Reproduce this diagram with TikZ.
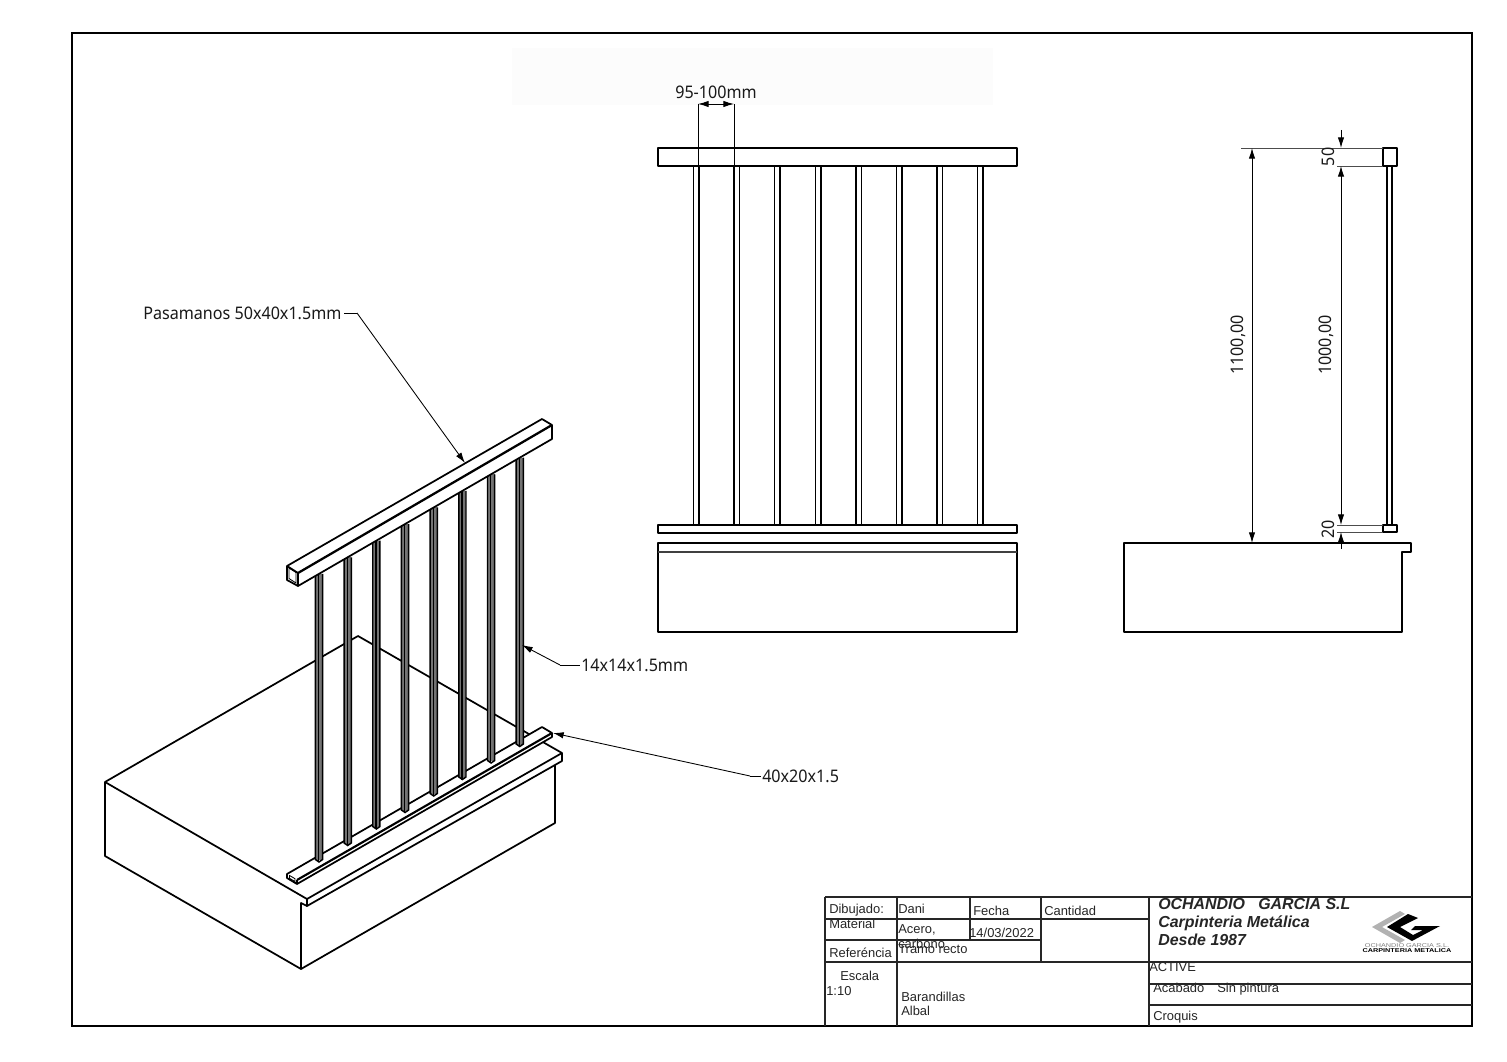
\documentclass[tikz,border=0pt]{standalone}
\usepackage{fontspec}
\usetikzlibrary{arrows.meta}
\setmainfont{Liberation Sans}
\newfontfamily\dimfont[FakeStretch=0.93]{Noto Sans}
\tikzset{
  x=0.75pt,y=-0.75pt,
  frameline/.style={line width=1.8pt,black},
  cellline/.style={line width=1.3pt,black!85},
  objline/.style={line width=1.3pt,black,line join=round},
  objfill/.style={objline,fill=white},
  thinline/.style={line width=0.65pt,black},
  extline/.style={line width=0.65pt,black!70},
  dimarrow/.style={line width=0.65pt,black,-{Latex[length=8pt,width=4.8pt]}},
  cell/.style={inner sep=0pt,anchor=base west,font=\fontsize{9.7pt}{11pt}\selectfont,text=black!85},
  company/.style={inner sep=0pt,anchor=base west,font=\fontsize{11.95pt}{13pt}\selectfont\bfseries\itshape,text=black!85},
  dimtext/.style={inner sep=0pt,font=\dimfont\fontsize{13pt}{15pt}\selectfont,text=black!90},
  logotext/.style={inner sep=0pt,xscale=1.3,font=\fontsize{4.2pt}{5pt}\selectfont},
}
\begin{document}
\begin{tikzpicture}
\useasboundingbox (0,0) rectangle (1507,1062);
\fill[white] (0,0) rectangle (1507,1062);
\fill[black!1] (512,48) rectangle (993,105);
\draw[frameline] (72,33) rectangle (1472,1026);

% ---------- isometric view: slab
\draw[objline] (105,782) -- (358,636) -- (562,753) -- (562,761) -- (307,906) -- (307,899) -- (105,782) -- cycle;
\draw[objline] (307,899) -- (562,753);
\draw[objline] (105,782) -- (105,856) -- (301,969) -- (555,823) -- (555,765);
\draw[objline] (301,969) -- (301,903) -- (307,906);

% lower rail
\draw[objfill] (287,874) -- (542,727) -- (552,733) -- (552,737) -- (297,884) -- (287,878) -- cycle;
\draw[objline,line width=1.6pt] (297,880) -- (552,733);
\draw[objline] (297,880) -- (297,884);
\draw[thinline] (289.5,875.5) -- (295,878.7) -- (295,881.5) -- (289.5,878.3) -- cycle;

% balusters
\foreach \i in {0,...,7}{
  \pgfmathsetmacro{\bx}{319+28.68*\i}
  \pgfmathsetmacro{\bt}{586-0.5787*(\bx-298)}
  \pgfmathsetmacro{\bb}{862-16.5*\i}
  \fill[black!55] (\bx-3.6,\bt) rectangle (\bx+3.6,\bb-2);
  \draw[line width=1.1pt] (\bx-3.6,\bt) -- (\bx-3.6,\bb-2.5) -- (\bx,\bb) -- (\bx+3.6,\bb-2.5) -- (\bx+3.6,\bt);
  \draw[line width=1.1pt] (\bx-0.4,\bt) -- (\bx-0.4,\bb);
}

% handrail
\draw[objfill] (287,566) -- (542,419) -- (552,425) -- (552,439) -- (298,586) -- (287,580) -- cycle;
\draw[objline,line width=1.7pt] (298,573) -- (552,425);
\draw[objline] (287,566) -- (298,573) -- (298,586);
\draw[thinline] (289,568) -- (296,572.5) -- (296,583) -- (289,578.5) -- cycle;

% ---------- front view
\draw[objline] (658,148) rectangle (1017,166);
\foreach \i in {0,...,7}{
  \pgfmathsetmacro{\fx}{693.5+40.6*\i}
  \draw[objline,line width=1.1pt] (\fx,166) -- (\fx,525);
  \draw[objline,line width=1.1pt] (\fx+5.5,166) -- (\fx+5.5,525);
}
\draw[objline] (658,525) rectangle (1017,533);
\draw[objline] (658,543) rectangle (1017,632);
\draw[objline,black!75] (658,552) -- (1017,552);

% dimension 95-100mm
\coordinate (da) at (698,104);
\coordinate (db) at (734,104);
\draw[thinline] (698,166) -- (da);
\draw[thinline] (734,166) -- (db);
\draw[dimarrow] (716,104) -- (da);
\draw[dimarrow] (716,104) -- (db);
\node[dimtext] (dimw) at (716,92) {95-100mm};

% ---------- side view
\draw[objline] (1124,543) -- (1411,543) -- (1411,552) -- (1402,552) -- (1402,632) -- (1124,632) -- cycle;
\draw[objline,line width=1.1pt] (1387,166) -- (1387,525);
\draw[objline,line width=1.1pt] (1392,166) -- (1392,525);
\draw[objline] (1383,148) rectangle (1397,166);
\draw[objline] (1383,525) rectangle (1397,532);
\draw[extline] (1241,148) -- (1383,148);
\draw[extline] (1337,166) -- (1383,166);
\draw[extline] (1337,525) -- (1383,525);
\draw[extline] (1337,532) -- (1383,532);

\coordinate (h1t) at (1252,148); \coordinate (h1b) at (1252,543);
\draw[dimarrow] (1252,345) -- (h1t);
\draw[dimarrow] (1252,345) -- (h1b);
\node[dimtext,rotate=90] (dim1100) at (1238,345) {1100,00};

\coordinate (h2t) at (1341,166); \coordinate (h2b) at (1341,525);
\draw[dimarrow] (1341,345) -- (h2t);
\draw[dimarrow] (1341,345) -- (h2b);
\node[dimtext,rotate=90] (dim1000) at (1326,345) {1000,00};

\coordinate (h3t) at (1341,148);
\draw[dimarrow] (1341,130) -- (h3t);
\node[dimtext,rotate=90] (dim50) at (1328,157) {50};
\coordinate (h4t) at (1341,532);
\draw[dimarrow] (1341,549) -- (h4t);
\node[dimtext,rotate=90] (dim20) at (1328,529) {20};

% ---------- leaders
\node[dimtext,anchor=west] (lpas) at (143,313) {Pasamanos 50x40x1.5mm};
\coordinate (tpas) at (465,463);
\draw[thinline] ([xshift=2pt]lpas.east) -- (357,313);
\draw[dimarrow] (357,313) -- (tpas);
\node[dimtext,anchor=west] (lbar) at (581,665) {14x14x1.5mm};
\coordinate (tbar) at (522,645);
\draw[thinline] ([xshift=-1pt]lbar.west) -- (560,665);
\draw[dimarrow] (560,665) -- (tbar);
\node[dimtext,anchor=west] (lrail) at (762,776) {40x20x1.5};
\coordinate (trail) at (553,733);
\draw[thinline] ([xshift=-1pt]lrail.west) -- (750,776);
\draw[dimarrow] (750,776) -- (trail);

% ---------- title block
\draw[cellline] (825,897) -- (1472,897);
\draw[cellline] (825,897) -- (825,1026);
\draw[cellline] (897,897) -- (897,1026);
\draw[cellline] (970,897) -- (970,940);
\draw[cellline] (1041,897) -- (1041,962);
\draw[cellline] (1149,897) -- (1149,1026);
\draw[cellline] (825,919) -- (1149,919);
\draw[cellline] (825,940) -- (1041,940);
\draw[cellline] (825,962) -- (1472,962);
\draw[cellline] (1149,984) -- (1472,984);
\draw[cellline] (1149,1005) -- (1472,1005);

\node[cell] (t1) at (829,913) {Dibujado:};
\node[cell] (t2) at (898,913) {Dani};
\node[cell] (t3) at (973,915) {Fecha};
\node[cell] (t4) at (1044,915) {Cantidad};
\node[cell] (t5) at (829,928) {Material};
\node[cell] (t6) at (898,933) {Acero,};
\node[cell] (t7) at (898,948) {carbono};
\node[cell] (t8) at (969,937) {14/03/2022};
\node[cell] (t9) at (829,957) {Referéncia};
\node[cell] (t10) at (898,953) {Tramo recto};
\node[cell] (t11) at (840,980) {Escala};
\node[cell] (t12) at (826,995) {1:10};
\node[cell] (t13) at (901,1001) {Barandillas};
\node[cell] (t14) at (901,1015) {Albal};
\node[company] (c1) at (1158,909) {OCHANDIO\ \ \ GARCIA S.L};
\node[company] (c2) at (1158,927) {Carpinteria Metálica};
\node[company] (c3) at (1158,945) {Desde 1987};
\node[cell] (t15) at (1149,971) {ACTIVE};
\node[cell] (t16) at (1153,992) {Acabado\ \ \ \,Sin pintura};
\node[cell] (t17) at (1153,1020) {Croquis};

% logo
\fill[black!30] (1372,927) -- (1400,911) -- (1405,914) -- (1382,927) -- (1405,940) -- (1400,943) -- cycle;
\fill[black] (1387,927) -- (1408,914) -- (1418,918) -- (1400,927) -- (1413,935) -- (1423,930) -- (1411,930) -- (1415,926) -- (1440,926) -- (1412,941) -- cycle;
\node[logotext,text=black!50] (l1) at (1407,946) {OCHANDIO GARCIA S.L.};
\node[logotext,font=\fontsize{4.2pt}{5pt}\selectfont\bfseries] (l2) at (1407,950.5) {CARPINTERIA METALICA};
\end{tikzpicture}
\end{document}
